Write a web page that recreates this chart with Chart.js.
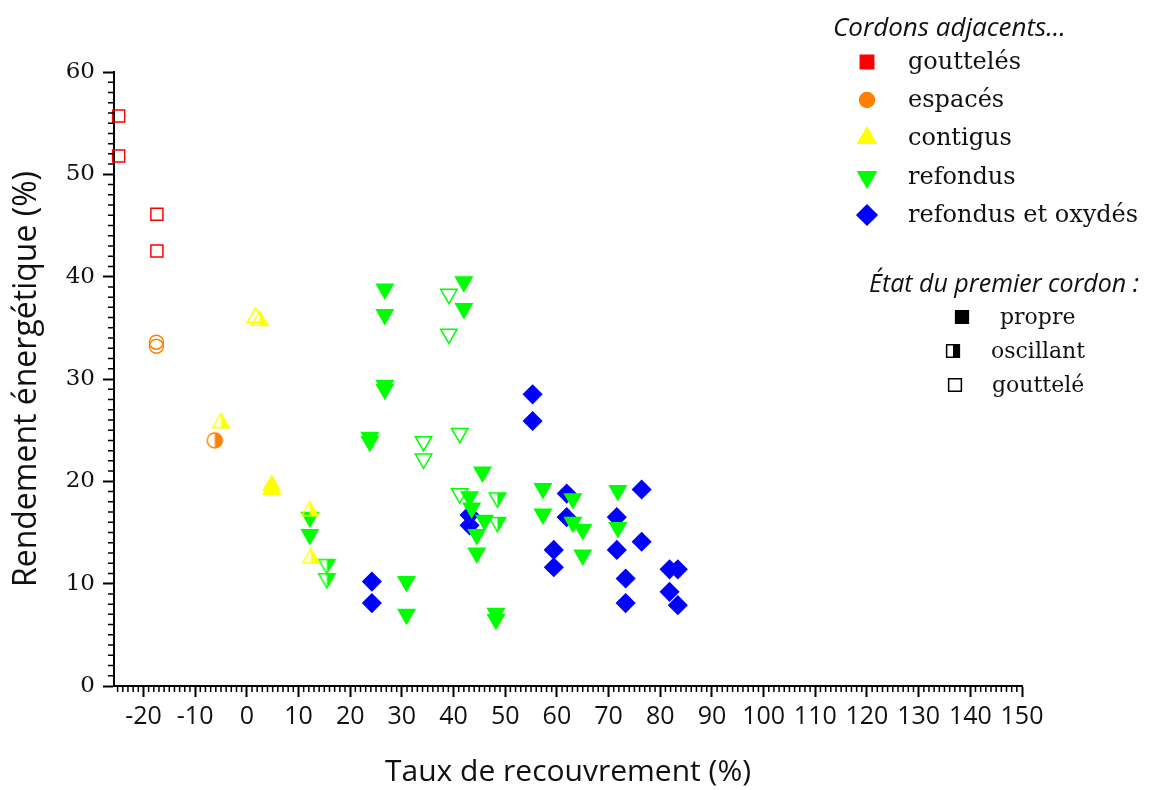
<!DOCTYPE html>
<html lang="fr">
<head>
<meta charset="utf-8">
<title>Rendement énergétique</title>
<script src="https://cdn.jsdelivr.net/npm/chart.js"></script>
<style>
  body { margin: 0; background: #fff; }
  #wrap { width: 1155px; height: 790px; }
</style>
</head>
<body>
<div id="wrap"><canvas id="chart" width="1155" height="790"></canvas></div>
<script>
// x: taux de recouvrement (%), y: rendement énergétique (%)
// one pair of arrays per family of adjacent beads and state of the first bead

// gouttelés
const gouttelesGoutteleX = [-24.8, -24.8, -17.4, -17.4];
const gouttelesGoutteleY = [55.7, 51.8, 46.1, 42.5];

// espacés
const espacesOscillantX = [-6.2];
const espacesOscillantY = [24.0];
const espacesGoutteleX = [-17.5, -17.5];
const espacesGoutteleY = [33.6, 33.2];

// contigus
const contigusPropreX = [4.8, 4.8];
const contigusPropreY = [19.6, 19.2];
const contigusOscillantX = [2.5, -5.0, 12.2, 12.4];
const contigusOscillantY = [35.7, 25.7, 17.1, 12.5];
const contigusGoutteleX = [1.7];
const contigusGoutteleY = [36.0];

// refondus
const refondusPropreX = [23.8, 23.8, 26.7, 26.7, 26.7, 26.7, 42.0, 42.0, 45.6, 43.1, 43.5, 46.0, 44.5, 44.5,
  57.3, 57.3, 63.1, 63.1, 65.0, 65.0, 71.8, 71.8, 30.9, 30.9, 48.2, 48.2, 12.2, 12.2];
const refondusPropreY = [24.3, 23.9, 38.8, 36.3, 29.4, 29.0, 39.5, 36.9, 20.9, 18.5, 17.4, 16.2, 14.8, 13.0,
  19.3, 16.8, 18.3, 16.0, 15.3, 12.8, 19.1, 15.5, 10.2, 7.0, 7.1, 6.5, 16.5, 14.8];
const refondusOscillantX = [48.5, 48.5, 15.5, 15.5];
const refondusOscillantY = [18.4, 16.0, 11.9, 10.5];
const refondusGoutteleX = [39.1, 39.1, 41.2, 34.2, 34.2, 41.2];
const refondusGoutteleY = [38.3, 34.4, 24.7, 23.9, 22.2, 18.8];

// refondus et oxydés
const oxydesPropreX = [55.3, 55.3, 43.1, 43.1, 24.2, 24.2, 61.9, 61.9, 59.4, 59.4,
  76.4, 71.6, 71.6, 76.4, 73.3, 73.3, 81.8, 83.4, 81.8, 83.4];
const oxydesPropreY = [28.5, 25.9, 16.7, 15.7, 10.2, 8.1, 18.8, 16.5, 13.3, 11.6,
  19.2, 16.5, 13.3, 14.1, 10.5, 8.1, 11.4, 11.4, 9.2, 7.9];

const familyLabels = ["gouttelés", "espacés", "contigus", "refondus", "refondus et oxydés"];
const stateLabels = ["propre", "oscillant", "gouttelé"];
const xTicksMin = -25.7;
const xTicksMax = 150;
const yTicksMin = 0;
const yTicksMax = 60;

const RED = "#ff0000";
const ORANGE = "#ff8000";
const YELLOW = "#ffff00";
const GREEN = "#00ff00";
const BLUE = "#0000ff";

function shapePath(ctx, shape, x, y, r) {
  ctx.beginPath();
  if (shape === "circle") {
    ctx.arc(x, y, r, 0, Math.PI * 2);
  } else if (shape === "rect") {
    const h = r * Math.SQRT1_2;
    ctx.rect(x - h, y - h, 2 * h, 2 * h);
  } else if (shape === "triangle" || shape === "triangleDown") {
    const s = shape === "triangle" ? 1 : -1;
    ctx.moveTo(x, y - s * r);
    ctx.lineTo(x + 0.866 * r, y + s * 0.5 * r);
    ctx.lineTo(x - 0.866 * r, y + s * 0.5 * r);
  } else if (shape === "diamond") {
    ctx.moveTo(x - r, y);
    ctx.lineTo(x, y - r);
    ctx.lineTo(x + r, y);
    ctx.lineTo(x, y + r);
  }
  ctx.closePath();
}

// draws a marker: "full", "half" (right half filled) or "open"
function drawMarker(ctx, shape, x, y, r, color, mode) {
  ctx.save();
  ctx.lineWidth = 1.5;
  ctx.strokeStyle = color;
  ctx.fillStyle = color;
  shapePath(ctx, shape, x, y, r);
  if (mode === "full") {
    ctx.fill();
  } else if (mode === "half") {
    ctx.save();
    ctx.clip();
    ctx.fillRect(x, y - r - 2, r + 2, 2 * r + 4);
    ctx.restore();
  }
  ctx.stroke();
  ctx.restore();
}

function halfMarker(shape, r, color) {
  const c = document.createElement("canvas");
  const size = Math.ceil(2 * r + 4);
  c.width = size;
  c.height = size;
  drawMarker(c.getContext("2d"), shape, size / 2, size / 2, r, color, "half");
  return c;
}

const toPoints = (xs, ys) => xs.map((x, i) => ({ x: x, y: ys[i] }));

function serie(label, xs, ys, style, radius, color, mode) {
  const set = {
    label: label,
    data: toPoints(xs, ys),
    clip: false,
    pointRadius: radius,
    pointHoverRadius: radius,
    borderWidth: 1.5,
    pointBorderColor: color,
    pointBackgroundColor: mode === "full" ? color : "rgba(0,0,0,0)",
    pointStyle: style,
    pointRotation: 0,
  };
  if (style === "triangleDown") {
    set.pointStyle = "triangle";
    set.pointRotation = 180;
  }
  if (mode === "half") {
    const shape = style === "rectRot" ? "diamond" : style;
    set.pointStyle = halfMarker(shape, radius, color);
    set.pointRotation = 0;
  }
  return set;
}

// dataset 0 is drawn on top
const datasets = [
  serie("gouttelés / gouttelé", gouttelesGoutteleX, gouttelesGoutteleY, "rect", 8.5, RED, "open"),
  serie("espacés / gouttelé", espacesGoutteleX, espacesGoutteleY, "circle", 7, ORANGE, "open"),
  serie("espacés / oscillant", espacesOscillantX, espacesOscillantY, "circle", 7.5, ORANGE, "half"),
  serie("contigus / propre", contigusPropreX, contigusPropreY, "triangle", 9.5, YELLOW, "full"),
  serie("contigus / oscillant", contigusOscillantX, contigusOscillantY, "triangle", 9.5, YELLOW, "half"),
  serie("contigus / gouttelé", contigusGoutteleX, contigusGoutteleY, "triangle", 9.5, YELLOW, "open"),
  serie("refondus / oscillant", refondusOscillantX, refondusOscillantY, "triangleDown", 9.5, GREEN, "half"),
  serie("refondus / gouttelé", refondusGoutteleX, refondusGoutteleY, "triangleDown", 9.5, GREEN, "open"),
  serie("refondus / propre", refondusPropreX, refondusPropreY, "triangleDown", 9.5, GREEN, "full"),
  serie("refondus et oxydés / propre", oxydesPropreX, oxydesPropreY, "rectRot", 9, BLUE, "full"),
];

const minorTicks = {
  id: "minorTicks",
  afterDraw(chart) {
    const { ctx, chartArea } = chart;
    const x = chart.scales.x;
    const y = chart.scales.y;
    ctx.save();
    ctx.strokeStyle = "#000";
    ctx.lineWidth = 1.5;
    ctx.beginPath();
    for (let v = Math.ceil(x.min); v <= x.max; v++) {
      if (v % 10 === 0) continue;
      const px = x.getPixelForValue(v);
      ctx.moveTo(px, chartArea.bottom);
      ctx.lineTo(px, chartArea.bottom + 6);
    }
    for (let v = Math.ceil(y.min); v <= y.max; v++) {
      if (v % 10 === 0) continue;
      const py = y.getPixelForValue(v);
      ctx.moveTo(chartArea.left, py);
      ctx.lineTo(chartArea.left - 6, py);
    }
    ctx.stroke();
    ctx.restore();
  },
};

const legendBox = {
  id: "legendBox",
  afterDraw(chart) {
    const ctx = chart.ctx;
    ctx.save();
    ctx.fillStyle = "#111";
    ctx.textAlign = "left";
    ctx.textBaseline = "alphabetic";
    ctx.font = "italic 26px 'Open Sans'";
    ctx.fillText("Cordons adjacents...", 833, 36);

    const shapes = ["rect", "circle", "triangle", "triangleDown", "diamond"];
    const sizes = [9.5, 7.5, 10.5, 10.5, 10];
    const colors = [RED, ORANGE, YELLOW, GREEN, BLUE];
    const rows = [62, 100, 138, 177, 215];
    ctx.font = "24px 'DejaVu Serif'";
    ctx.textBaseline = "middle";
    familyLabels.forEach((label, i) => {
      drawMarker(ctx, shapes[i], 867, rows[i], sizes[i], colors[i], "full");
      ctx.fillStyle = "#111";
      ctx.fillText(label, 908, rows[i] + 1);
    });

    ctx.textBaseline = "alphabetic";
    ctx.font = "italic 25px 'Open Sans'";
    ctx.fillText("État du premier cordon :", 869, 292);

    const modes = ["full", "half", "open"];
    const markX = [962, 953, 955];
    const textX = [1000, 991, 992];
    const stateRows = [317, 351, 385];
    ctx.font = "22px 'DejaVu Serif'";
    ctx.textBaseline = "middle";
    stateLabels.forEach((label, i) => {
      drawMarker(ctx, "rect", markX[i], stateRows[i], 9, "#000", modes[i]);
      ctx.fillStyle = "#111";
      ctx.fillText(label, textX[i], stateRows[i] + 1);
    });
    ctx.restore();
  },
};

new Chart(document.getElementById("chart"), {
  type: "scatter",
  data: { datasets: datasets },
  options: {
    responsive: false,
    animation: false,
    events: [],
    layout: { padding: { top: 72, right: 133, left: 0, bottom: 0 } },
    plugins: {
      legend: { display: false },
      tooltip: { enabled: false },
    },
    scales: {
      x: {
        type: "linear",
        min: xTicksMin,
        max: xTicksMax,
        afterFit: (scale) => { scale.height = 104; },
        ticks: {
          stepSize: 10,
          includeBounds: false,
          color: "#111",
          padding: 5,
          maxRotation: 0,
          autoSkip: false,
          font: { family: "'Open Sans'", size: 25 },
        },
        grid: { drawOnChartArea: false, tickLength: 11, tickColor: "#000", tickWidth: 2 },
        border: { color: "#000", width: 2 },
        title: {
          display: true,
          text: "Taux de recouvrement (%)",
          color: "#111",
          font: { family: "'Open Sans'", size: 30 },
          padding: { top: 0, bottom: 0 },
        },
      },
      y: {
        type: "linear",
        min: yTicksMin,
        max: yTicksMax,
        afterFit: (scale) => { scale.width = 114; },
        ticks: {
          stepSize: 10,
          color: "#111",
          padding: 8,
          font: { family: "'DejaVu Serif'", size: 23 },
        },
        grid: { drawOnChartArea: false, tickLength: 11, tickColor: "#000", tickWidth: 2 },
        border: { color: "#000", width: 2 },
        title: {
          display: true,
          text: "Rendement énergétique (%)",
          color: "#111",
          font: { family: "'Open Sans'", size: 32 },
          padding: { top: 8, bottom: 0 },
        },
      },
    },
  },
  plugins: [minorTicks, legendBox],
});
</script>
</body>
</html>
